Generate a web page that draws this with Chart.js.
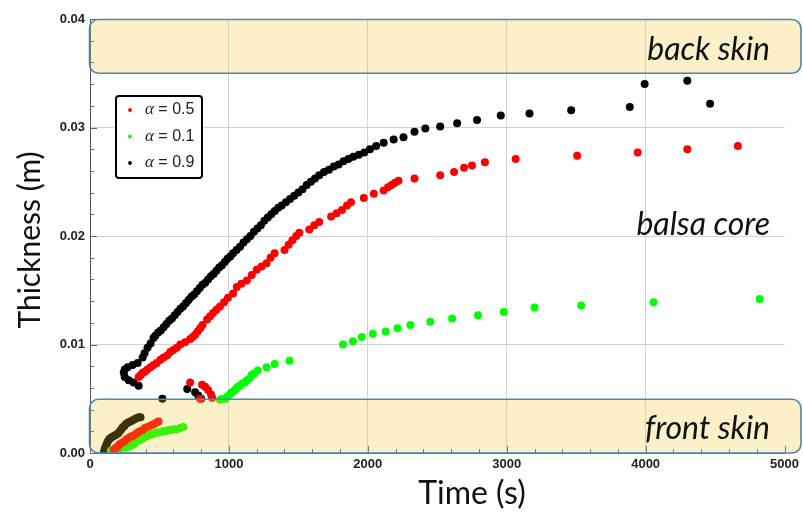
<!DOCTYPE html>
<html lang="en">
<head>
<meta charset="utf-8">
<title>Thickness vs time</title>
<script src="https://cdn.jsdelivr.net/npm/chart.js"></script>
<style>
    html, body { margin: 0; padding: 0; background: #fff; }
    #wrap { width: 803px; height: 513px; position: relative; }
</style>
</head>
<body>
<div id="wrap"><canvas id="thicknessChart"></canvas></div>
<script>
    // alpha = 0.5 (red)
    const redTime = [171, 180, 190, 200, 212, 225, 238, 250, 265, 280, 295, 310, 325, 343, 360, 378, 395, 412, 430, 448, 465, 480, 493,
        721, 807, 829, 850, 871, 879, 793,
        350, 365, 379, 395, 414, 435, 457, 480, 507, 530, 557, 578, 600, 625, 650, 685, 721, 740, 757, 775, 793, 810, 843, 865, 886, 910, 936, 965, 993,
        1030, 1057, 1090, 1129, 1165, 1200, 1235, 1271, 1300, 1329, 1400, 1430, 1457, 1485, 1507, 1579, 1615, 1650, 1736, 1775, 1814, 1850, 1879,
        1971, 2043, 2114, 2145, 2171, 2195, 2221, 2336, 2521, 2621, 2693, 2750, 2843, 3064, 3507, 3943, 4300, 4664];
    const redThick = [0.0003, 0.0004, 0.0005, 0.0006, 0.0008, 0.0009, 0.0010, 0.0011, 0.0013, 0.0014, 0.0015, 0.0016, 0.0017, 0.0019, 0.0020, 0.0021, 0.0023, 0.0024, 0.0025, 0.0026, 0.0027, 0.0028, 0.0029,
        0.0065, 0.0063, 0.0061, 0.0058, 0.0054, 0.0051, 0.0050,
        0.0070, 0.0072, 0.0074, 0.0075, 0.0077, 0.0079, 0.0081, 0.0083, 0.0086, 0.0088, 0.0090, 0.0093, 0.0095, 0.0097, 0.0100, 0.0102, 0.0105, 0.0107, 0.0109, 0.0112, 0.0115, 0.0118, 0.0123, 0.0126, 0.0129, 0.0132, 0.0135, 0.0139, 0.0143,
        0.0147, 0.0153, 0.0156, 0.0159, 0.0164, 0.0169, 0.0172, 0.0175, 0.0180, 0.0184, 0.0187, 0.0192, 0.0196, 0.0200, 0.0203, 0.0206, 0.0210, 0.0213, 0.0218, 0.0221, 0.0224, 0.0228, 0.0231,
        0.0235, 0.0239, 0.0242, 0.0245, 0.0247, 0.0249, 0.0251, 0.0253, 0.0256, 0.0259, 0.0263, 0.0265, 0.0268, 0.0271, 0.0274, 0.0277, 0.0280, 0.0283];

    // alpha = 0.1 (green)
    const greenTime = [150, 165, 180, 200, 220, 240, 260, 279, 298, 315, 330, 343, 358, 372, 386, 400, 415, 430, 445, 460, 480, 500, 520, 540, 560, 580, 600, 625, 648, 671,
        936, 955, 975, 990, 1005, 1021, 1035, 1050, 1064, 1080, 1097, 1114, 1130, 1150, 1164, 1180, 1207, 1271, 1329, 1436,
        1821, 1893, 1957, 2036, 2129, 2214, 2307, 2450, 2607, 2793, 2979, 3200, 3536, 4057, 4821];
    const greenThick = [0.0002, 0.0003, 0.0003, 0.0004, 0.0004, 0.0005, 0.0005, 0.0006, 0.0007, 0.0008, 0.0010, 0.0011, 0.0012, 0.0013, 0.0014, 0.0015, 0.0016, 0.0017, 0.0017, 0.0018, 0.0019, 0.0019, 0.0020, 0.0020, 0.0021, 0.0021, 0.0022, 0.0022, 0.0023, 0.0024,
        0.0049, 0.0050, 0.0050, 0.0052, 0.0054, 0.0056, 0.0057, 0.0059, 0.0061, 0.0062, 0.0064, 0.0065, 0.0067, 0.0069, 0.0072, 0.0073, 0.0076, 0.0079, 0.0082, 0.0085,
        0.0100, 0.0103, 0.0107, 0.0110, 0.0112, 0.0115, 0.0118, 0.0121, 0.0124, 0.0127, 0.0130, 0.0134, 0.0136, 0.0139, 0.0142];

    // alpha = 0.9 (black)
    const blackTime = [100, 105, 110, 116, 122, 130, 140, 150, 162, 175, 190, 203, 215, 226, 237, 248, 260, 275, 290, 305, 320, 335, 350, 364,
        521, 700, 757, 779, 800,
        350, 314, 279, 250, 243, 250, 271, 307, 343, 379, 393, 414, 436, 457,
        470, 490, 510, 530, 550, 570, 590, 610, 630, 650, 670, 690, 710, 730, 750, 770, 790, 810, 830, 850, 870, 890, 910, 930, 950, 970, 990,
        1010, 1030, 1055, 1080, 1105, 1130, 1155, 1180, 1205, 1230, 1255, 1280, 1305, 1330, 1355, 1380, 1410, 1440, 1470, 1500, 1530, 1560, 1590, 1620, 1650,
        1685, 1720, 1755, 1790, 1825, 1860, 1895, 1935, 1975, 2015, 2060, 2114,
        2186, 2257, 2336, 2414, 2521, 2643, 2786, 2957, 3164, 3464, 3886, 3993, 4300, 4464];
    const blackThick = [0.0001, 0.0003, 0.0005, 0.0007, 0.0009, 0.0011, 0.0013, 0.0014, 0.0015, 0.0016, 0.0017, 0.0018, 0.0020, 0.0022, 0.0024, 0.0025, 0.0027, 0.0028, 0.0029, 0.0030, 0.0031, 0.0032, 0.0033, 0.0033,
        0.0050, 0.0059, 0.0056, 0.0053, 0.0050,
        0.0062, 0.0065, 0.0067, 0.0070, 0.0074, 0.0077, 0.0079, 0.0081, 0.0083, 0.0088, 0.0092, 0.0097, 0.0101, 0.0106,
        0.0108, 0.0111, 0.0113, 0.0116, 0.0119, 0.0122, 0.0124, 0.0127, 0.0130, 0.0133, 0.0135, 0.0138, 0.0141, 0.0144, 0.0146, 0.0149, 0.0152, 0.0155, 0.0157, 0.0160, 0.0163, 0.0165, 0.0168, 0.0171, 0.0173, 0.0176, 0.0179,
        0.0181, 0.0184, 0.0187, 0.0190, 0.0194, 0.0197, 0.0200, 0.0204, 0.0207, 0.0210, 0.0214, 0.0217, 0.0220, 0.0223, 0.0226, 0.0228, 0.0231, 0.0234, 0.0237, 0.0240, 0.0243, 0.0247, 0.0250, 0.0253, 0.0256,
        0.0259, 0.0261, 0.0264, 0.0266, 0.0269, 0.0271, 0.0273, 0.0275, 0.0277, 0.0280, 0.0283, 0.0286,
        0.0289, 0.0291, 0.0296, 0.0299, 0.0301, 0.0304, 0.0307, 0.0311, 0.0313, 0.0316, 0.0319, 0.0340, 0.0343, 0.0322];

    const seriesLabels = ['0.5', '0.1', '0.9'];
    const seriesColors = ['#ff0000', '#00ff00', '#000000'];

    // layers of the sandwich panel (m)
    const layerNames = ['back skin', 'balsa core', 'front skin'];
    const layerTop = [0.04, 0.035, 0.005];
    const layerBottom = [0.035, 0.005, 0];

    const xTicks = [0, 1000, 2000, 3000, 4000, 5000];
    const yTicks = [0, 0.01, 0.02, 0.03, 0.04];

    function toPoints(times, values) {
        return times.map((t, i) => ({ x: t, y: values[i] }));
    }

    // skins drawn over the points, like the original overlay
    const layersPlugin = {
        id: 'layers',
        afterDatasetsDraw(chart) {
            const { ctx, chartArea, scales: { y } } = chart;
            ctx.save();
            [0, 2].forEach(i => {
                const top = y.getPixelForValue(layerTop[i]);
                const bottom = y.getPixelForValue(layerBottom[i]);
                ctx.beginPath();
                ctx.roundRect(chartArea.left - 0.5, top + 0.5, chart.width - chartArea.left - 1.5, bottom - top - 0.5, 9);
                ctx.fillStyle = 'rgba(243, 194, 40, 0.25)';
                ctx.fill();
                ctx.lineWidth = 1.6;
                ctx.strokeStyle = '#4a88b6';
                ctx.stroke();
            });
            ctx.fillStyle = '#111';
            ctx.font = 'italic 32px Lato';
            ctx.textAlign = 'right';
            ctx.textBaseline = 'middle';
            const labelY = [0.0372, 0.021, 0.0022];
            layerNames.forEach((name, i) => {
                ctx.fillText(name, 770, y.getPixelForValue(labelY[i]));
            });
            ctx.restore();
        }
    };

    // inward tick marks, major and minor
    const ticksPlugin = {
        id: 'innerTicks',
        beforeDatasetsDraw(chart) {
            const { ctx, chartArea, scales: { x, y } } = chart;
            ctx.save();
            ctx.strokeStyle = '#666';
            ctx.lineWidth = 1;
            ctx.beginPath();
            for (let v = 0; v <= 5000; v += 200) {
                const px = Math.round(x.getPixelForValue(v)) + 0.5;
                const len = v % 1000 === 0 ? 7 : 4;
                ctx.moveTo(px, chartArea.bottom);
                ctx.lineTo(px, chartArea.bottom - len);
            }
            for (let k = 0; k <= 20; k++) {
                const py = Math.round(y.getPixelForValue(k * 0.002)) + 0.5;
                const len = k % 5 === 0 ? 7 : 4;
                ctx.moveTo(chartArea.left, py);
                ctx.lineTo(chartArea.left + len, py);
            }
            ctx.stroke();
            ctx.restore();
        }
    };

    // legend box inside the plot + axis titles
    const legendPlugin = {
        id: 'legendBox',
        afterDraw(chart) {
            const { ctx } = chart;
            ctx.save();
            ctx.beginPath();
            ctx.roundRect(116, 96, 86, 82, 3);
            ctx.fillStyle = '#fff';
            ctx.fill();
            ctx.lineWidth = 2;
            ctx.strokeStyle = '#000';
            ctx.stroke();
            chart.data.datasets.forEach((ds, i) => {
                const rowY = 110 + i * 26.5;
                ctx.beginPath();
                ctx.arc(130, rowY, 1.9, 0, Math.PI * 2);
                ctx.fillStyle = ds.backgroundColor;
                ctx.fill();
                ctx.fillStyle = '#222';
                ctx.textBaseline = 'middle';
                ctx.textAlign = 'left';
                ctx.font = 'italic 17px "Liberation Serif"';
                ctx.fillText('α', 145, rowY);
                const w = ctx.measureText('α').width;
                ctx.font = '16px "Liberation Sans"';
                ctx.fillText(' = ' + seriesLabels[i], 145 + w, rowY);
            });

            ctx.fillStyle = '#111';
            ctx.font = '32px Lato';
            ctx.textAlign = 'center';
            ctx.textBaseline = 'middle';
            ctx.fillText('Time (s)', 472, 494);
            ctx.font = '30px Lato';
            ctx.translate(30, 240);
            ctx.rotate(-Math.PI / 2);
            ctx.fillText('Thickness (m)', 0, 0);
            ctx.restore();
        }
    };

    const datasets = [
        { label: 'α = ' + seriesLabels[0], data: toPoints(redTime, redThick) },
        { label: 'α = ' + seriesLabels[1], data: toPoints(greenTime, greenThick) },
        { label: 'α = ' + seriesLabels[2], data: toPoints(blackTime, blackThick) }
    ].map((ds, i) => ({
        ...ds,
        backgroundColor: seriesColors[i],
        borderWidth: 0,
        pointRadius: 4,
        pointHoverRadius: 4
    }));

    const hideEdge = max => ctx => ctx.tick && ctx.tick.value >= max ? 'rgba(0,0,0,0)' : '#d2d2d2';

    new Chart(document.getElementById('thicknessChart'), {
        type: 'scatter',
        data: { datasets },
        options: {
            responsive: true,
            maintainAspectRatio: false,
            animation: false,
            layout: { padding: { left: 0, top: 19, right: 15, bottom: 0 } },
            plugins: {
                legend: { display: false },
                tooltip: { enabled: false }
            },
            scales: {
                x: {
                    type: 'linear',
                    min: 0,
                    max: 5000,
                    afterBuildTicks: s => { s.ticks = xTicks.map(v => ({ value: v })); },
                    afterFit: s => { s.height = 60; },
                    grid: { color: hideEdge(5000), drawTicks: false },
                    border: { color: '#555', width: 1 },
                    ticks: {
                        padding: 4,
                        color: '#222',
                        font: { family: 'Liberation Sans', size: 13, weight: 'bold' },
                        maxRotation: 0,
                        callback: v => String(v)
                    }
                },
                y: {
                    min: 0,
                    max: 0.04,
                    afterBuildTicks: s => { s.ticks = yTicks.map(v => ({ value: v })); },
                    afterFit: s => { s.width = 90; },
                    grid: { color: hideEdge(0.04), drawTicks: false },
                    border: { color: '#555', width: 1 },
                    ticks: {
                        padding: 5,
                        color: '#222',
                        font: { family: 'Liberation Sans', size: 13, weight: 'bold' },
                        callback: v => v.toFixed(2)
                    }
                }
            }
        },
        plugins: [ticksPlugin, layersPlugin, legendPlugin]
    });
</script>
</body>
</html>
